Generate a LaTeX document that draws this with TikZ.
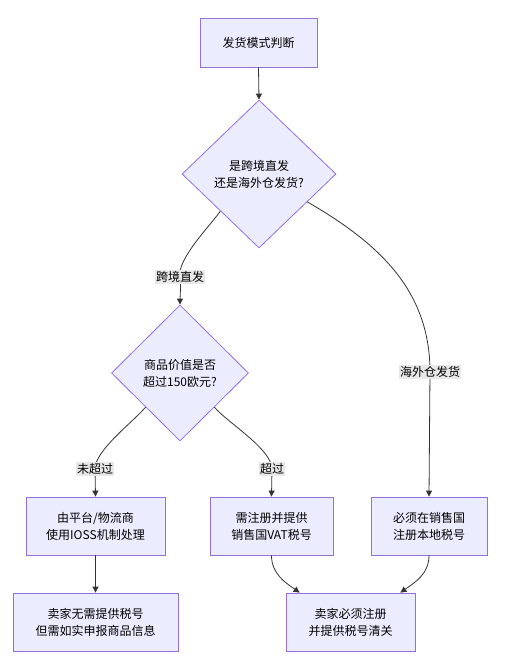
\documentclass[tikz,border=0pt]{standalone}
\usepackage{fontspec}
\setmainfont{Noto Sans CJK SC}
\usetikzlibrary{shapes.geometric,arrows.meta}
\definecolor{nodefill}{HTML}{ECECFF}
\definecolor{nodeline}{HTML}{9370DB}
\definecolor{edgecol}{HTML}{333333}
\definecolor{lblfill}{HTML}{E8E8E8}
\tikzset{
  boxnode/.style={draw=nodeline, fill=nodefill, line width=0.8pt, rectangle, align=center,
    inner sep=0pt, font=\fontsize{12}{17}\selectfont},
  decision/.style={draw=nodeline, fill=nodefill, line width=0.8pt, diamond, align=center,
    inner sep=0pt, font=\fontsize{12}{17}\selectfont},
  arr/.style={draw=edgecol, line width=0.8pt, -{Triangle[length=6pt,width=6pt]}},
  lbl/.style={fill=lblfill, inner sep=1pt, font=\fontsize{12}{14}\selectfont},
}
\begin{document}
\begin{tikzpicture}[x=1pt,y=-1pt]
\useasboundingbox[fill=white] (0,0) rectangle (508,672);
% nodes
\node[boxnode, minimum width=117pt, minimum height=49pt] (top) at (258.5,42.5) {发货模式判断};
\node[decision, minimum width=154pt, minimum height=148pt] (d1) at (259,174) {是跨境直发\\还是海外仓发货?};
\node[decision, minimum width=137pt, minimum height=136pt] (d2) at (180,373) {商品价值是否\\超过150欧元?};
\node[boxnode, minimum width=139pt, minimum height=58pt] (A) at (95.5,526) {由平台/物流商\\使用IOSS机制处理};
\node[boxnode, minimum width=123pt, minimum height=58pt] (B) at (271.5,526) {需注册并提供\\销售国VAT税号};
\node[boxnode, minimum width=116pt, minimum height=58pt] (C) at (429,526) {必须在销售国\\注册本地税号};
\node[boxnode, minimum width=165pt, minimum height=58pt] (D) at (95.5,622) {卖家无需提供税号\\但需如实申报商品信息};
\node[boxnode, minimum width=129pt, minimum height=58pt] (E) at (350.5,622) {卖家必须注册\\并提供税号清关};
% label positions
\coordinate (c1) at (180,277);
\coordinate (c2) at (430,372);
\coordinate (c3) at (95,469);
\coordinate (c4) at (272,469);
% edges
\draw[arr] (top.south) -- (d1.north);
\draw[arr] (d1.south west) to[out=-125,in=100,looseness=0.6] (c1) to[out=-80,in=90,looseness=0.6] (d2.north);
\draw[arr] (d1.-30) to[out=-30,in=90] (c2) -- (C.north);
\draw[arr] (d2.south west) to[out=-130,in=90,looseness=0.6] (c3) -- (A.north);
\draw[arr] (d2.south east) to[out=-50,in=90,looseness=0.6] (c4) -- (B.north);
\draw[arr] (A.south) -- (D.north);
\draw[arr] (B.south) to[out=-90,in=145] ([xshift=14pt]E.north west);
\draw[arr] (C.south) to[out=-90,in=35] ([xshift=-15pt]E.north east);
% edge labels
\node[lbl] (L1) at (c1) {跨境直发};
\node[lbl] (L2) at (c2) {海外仓发货};
\node[lbl] (L3) at (c3) {未超过};
\node[lbl] (L4) at (c4) {超过};
\end{tikzpicture}
\end{document}
